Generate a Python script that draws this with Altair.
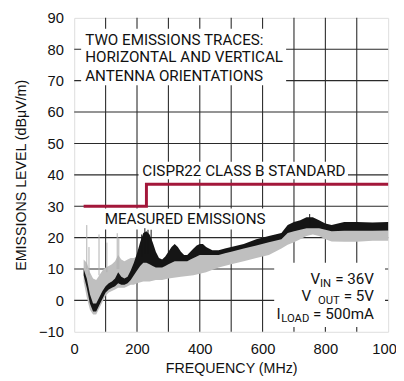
import altair as alt
import pandas as pd

# ---- data ----
gray_f  = [30, 40, 50, 60, 70, 80, 90, 100, 110, 120, 130, 140, 150, 160, 170, 180, 190, 200,
           220, 240, 260, 280, 300, 340, 380, 420, 460, 500, 540, 580, 620, 660, 680, 700,
           720, 740, 760, 780, 800, 820, 860, 900, 950, 1000]
gray_lo = [6, 1, -3, -4.5, -4.5, -2.5, -0.5, 1.5, 2.5, 3, 3.5, 4, 4, 4, 4.5, 5, 5, 5.5,
           6, 6, 6.5, 6.5, 7, 7.5, 8, 9, 10.5, 11.5, 12.5, 13.5, 14.5, 16.5, 17.7, 18.5,
           19.5, 20.5, 21, 20.5, 19.5, 18.8, 18.7, 18.7, 19, 19]
gray_hi = [13, 12, 9, 7, 6.5, 8, 9.5, 10.5, 11, 11.5, 12.5, 14.5, 13, 12.5, 13, 13.5, 13.5, 14,
           14, 13.5, 13, 13, 13.5, 13.5, 14, 15, 15.5, 16.5, 17.5, 18.5, 19.5, 21.5, 22.4, 23,
           23.8, 24.3, 24.5, 24.3, 23.3, 22.6, 22.5, 22.5, 22.5, 22.5]

black_f  = [30, 40, 50, 60, 70, 80, 90, 100, 110, 120, 130, 140, 150, 160, 170, 180, 190, 200,
            210, 220, 230, 240, 250, 260, 270, 280, 290, 300, 310, 320, 330, 340, 350, 360,
            370, 380, 390, 400, 410, 420, 440, 460, 480, 500, 540, 580, 620, 660, 680, 700,
            720, 740, 760, 780, 800, 820, 860, 900, 950, 1000]
black_lo = [8, 4, -1, -3.5, -3.5, -1.5, 0.5, 2.5, 3.5, 4, 4.5, 5.5, 5, 5, 5.5, 6.5, 8, 9.5,
            11, 12, 12, 11.5, 11, 10.5, 10.5, 10.5, 11, 11.5, 12, 12.5, 12.5, 12.5, 12.5, 12.5,
            13, 13.5, 14, 14.5, 14.5, 14.5, 14.5, 14.5, 15, 15.5, 16.5, 17.5, 18.5, 19.5, 21.5, 22,
            22.5, 23, 23, 23, 22.5, 22, 22.2, 22.2, 22.2, 22.3]
black_hi = [10, 7, 2, -1, -1, 1, 3, 4.5, 5.5, 6, 7, 9, 7.5, 7, 7.5, 9.5, 12, 15,
            18.5, 21.5, 22, 21, 18.5, 15.5, 13.5, 13, 14, 15.5, 17, 18, 17, 15.5, 14.5, 14.5,
            15.5, 16.5, 17.5, 18, 18, 17, 16, 16, 16.5, 17, 18, 19.5, 20.5, 21.5, 24, 25,
            25.5, 26.5, 26.5, 25.5, 24.5, 24, 25, 25, 24.8, 25]

spike_f  = [40, 47, 79, 104, 137, 142, 215, 225, 235, 245, 750]
spike_lo = [10, 8, 8, 9, 10, 10, 14, 15, 15, 14, 24]
spike_hi = [24, 17, 21, 18.4, 21.4, 20, 21, 23, 22.5, 22.5, 27.5]
spike_c  = ["gray", "gray", "gray", "gray", "gray", "gray", "black", "black", "black", "black", "black"]

limit_f = [30, 230, 1000]
limit_v = [30, 37, 37]

grid_x = [100, 200, 300, 400, 500, 600, 700, 800, 900]
grid_y = [0, 10, 20, 30, 40, 50, 60, 70, 80]
x_min, x_max = 0, 1000
y_min, y_max = -10, 90

box_x1 = [22, 205, 88, 637]
box_x2 = [675, 872, 615, 990]
box_y1 = [68.5, 38.6, 22.6, -8.5]
box_y2 = [86.5, 44.2, 29.3, 12]

label_text = ["TWO EMISSIONS TRACES:", "HORIZONTAL AND VERTICAL", "ANTENNA ORIENTATIONS",
              "CISPR22 CLASS B STANDARD", "MEASURED EMISSIONS"]
label_f = [35, 35, 35, 217, 97]
label_v = [81.5, 75.8, 69.8, 39.7, 24.2]

cond_main = ["V", "= 36V", "V", "= 5V", "I", "= 500mA"]
cond_main_v = [5.2, 5.2, -0.3, -0.3, -5.8, -5.8]
cond_sub = ["IN", "OUT", "LOAD"]
cond_sub_v = [5.2, -0.3, -5.8]
cond_f = 955

FONT = "Roboto"
FS = 15.5
SUB_FS = 11.5
W = 320
H = 320

xs = alt.Scale(domain=[x_min, x_max], nice=False)
ys = alt.Scale(domain=[y_min, y_max], nice=False)

xaxis = alt.Axis(values=[0, 200, 400, 600, 800, 1000], format="d", labelFlush=False,
                 title="FREQUENCY (MHz)", grid=False, ticks=False, tickSize=0, domain=False,
                 labelPadding=10, titlePadding=6, labelFontSize=15, titleFontSize=14.5,
                 titleFontWeight="normal", labelFont="Liberation Sans", titleFont="Liberation Sans",
                 labelColor="#111", titleColor="#111", labelOverlap=False)
yaxis = alt.Axis(values=list(range(-10, 91, 10)), title="EMISSIONS LEVEL (dBμV/m)", grid=False,
                 ticks=False, tickSize=0, domain=False, labelPadding=11, titlePadding=10,
                 labelFlush=False, labelFontSize=15, titleFontSize=14.5, titleFontWeight="normal",
                 labelFont="Liberation Sans", titleFont="Liberation Sans",
                 labelColor="#111", titleColor="#111", labelOverlap=False)


def X(field):
    return alt.X(field, scale=xs, axis=xaxis)


def Y(field):
    return alt.Y(field, scale=ys, axis=yaxis)


gx = pd.DataFrame({"g": grid_x, "a": [y_min] * len(grid_x), "b": [y_max] * len(grid_x)})
gridx_layer = alt.Chart(gx).mark_rule(color="#2a2a2a", strokeWidth=1.1).encode(
    x=X("g:Q"), y=Y("a:Q"), y2=alt.Y2("b:Q"))
gy = pd.DataFrame({"g": grid_y, "a": [x_min] * len(grid_y), "b": [x_max] * len(grid_y)})
gridy_layer = alt.Chart(gy).mark_rule(color="#2a2a2a", strokeWidth=1.1).encode(
    y=Y("g:Q"), x=X("a:Q"), x2=alt.X2("b:Q"))

boxes = pd.DataFrame({"bx1": box_x1, "bx2": box_x2, "by1": box_y1, "by2": box_y2})
box_layer = alt.Chart(boxes).mark_rect(fill="white", opacity=1).encode(
    x=X("bx1:Q"), x2=alt.X2("bx2:Q"), y=Y("by1:Q"), y2=alt.Y2("by2:Q"))

gray = pd.DataFrame({"f": gray_f, "lo": gray_lo, "hi": gray_hi})
gray_layer = alt.Chart(gray).mark_area(color="#bfbfbf", opacity=1).encode(
    x=X("f:Q"), y=Y("lo:Q"), y2=alt.Y2("hi:Q"))

black = pd.DataFrame({"f": black_f, "lo": black_lo, "hi": black_hi})
black_layer = alt.Chart(black).mark_area(color="#151515", opacity=1).encode(
    x=X("f:Q"), y=Y("lo:Q"), y2=alt.Y2("hi:Q"))

spikes = pd.DataFrame({"f": spike_f, "lo": spike_lo, "hi": spike_hi, "c": spike_c})
spike_layer = alt.Chart(spikes).mark_rule(strokeWidth=1).encode(
    x=X("f:Q"), y=Y("lo:Q"), y2=alt.Y2("hi:Q"),
    color=alt.Color("c:N", scale=alt.Scale(domain=["gray", "black"], range=["#b0b0b0", "#151515"]),
                    legend=None))

limit = pd.DataFrame({"f": limit_f, "v": limit_v})
limit_layer = alt.Chart(limit).mark_line(color="#a3173a", strokeWidth=3, interpolate="step-after").encode(
    x=X("f:Q"), y=Y("v:Q"))

labels = pd.DataFrame({"t": label_text, "f": label_f, "v": label_v})
label_layer = alt.Chart(labels).mark_text(align="left", baseline="alphabetic", font=FONT,
                                          fontSize=FS, color="#111").encode(
    x=X("f:Q"), y=Y("v:Q"), text="t:N")

# conditions block: right-aligned main text, with subscripts placed via pixel offsets
main_dx = [-55, 0, -64, 0, -95.2, 0]
sub_dx = [-43.7, -35, -66]
layers = [gridx_layer, gridy_layer, box_layer, gray_layer, black_layer, spike_layer,
          limit_layer, label_layer]
for t, dx, v in zip(cond_main, main_dx, cond_main_v):
    d = pd.DataFrame({"t": [t], "f": [cond_f], "v": [v]})
    layers.append(alt.Chart(d).mark_text(align="right", baseline="alphabetic", font=FONT,
                                         fontSize=FS, color="#111", dx=dx).encode(
        x=X("f:Q"), y=Y("v:Q"), text="t:N"))
for t, dx, v in zip(cond_sub, sub_dx, cond_sub_v):
    d = pd.DataFrame({"t": [t], "f": [cond_f], "v": [v]})
    layers.append(alt.Chart(d).mark_text(align="right", baseline="alphabetic", font=FONT,
                                         fontSize=SUB_FS, color="#111", dx=dx, dy=3).encode(
        x=X("f:Q"), y=Y("v:Q"), text="t:N"))

chart = alt.layer(*layers).properties(
    width=W, height=H, autosize="none",
    padding={"left": 67.5, "top": 6.5, "right": 8, "bottom": 42},
).configure_view(stroke="#000", strokeWidth=1.5).configure(background="white")

chart.save("out.html", embed_options={"renderer": "svg", "actions": False})
